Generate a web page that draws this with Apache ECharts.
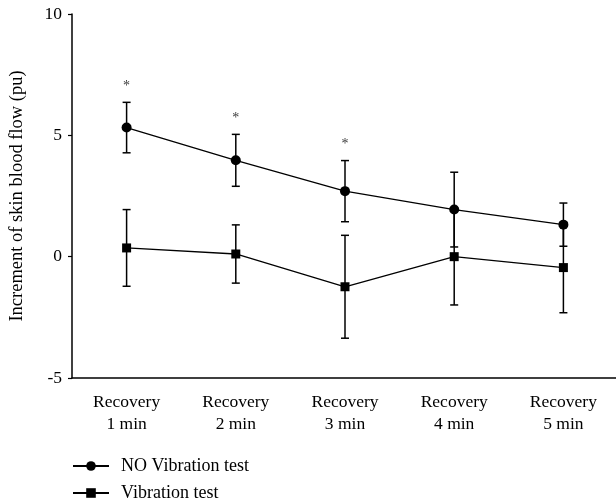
<!DOCTYPE html>
<html>

<head>
    <meta charset="UTF-8">
    <script src="https://cdn.jsdelivr.net/npm/echarts@6.0.0/dist/echarts.min.js"></script>
    <style>
        html, body { margin: 0; padding: 0; background: #fff; }
    </style>
</head>

<body>
    <div id="main" style="width: 616px; height: 502px;"></div>
    <script>
        // categories and values
        var categories = ['Recovery\n1 min', 'Recovery\n2 min', 'Recovery\n3 min', 'Recovery\n4 min', 'Recovery\n5 min'];
        var noVibMean = [5.32, 3.97, 2.70, 1.94, 1.32];
        var noVibErr = [1.04, 1.07, 1.26, 1.54, 0.89];
        var vibMean = [0.36, 0.11, -1.24, 0.00, -0.45];
        var vibErr = [1.58, 1.20, 2.12, 1.99, 1.86];
        var starFlags = [true, true, true, false, false];
        var yTicks = [-5, 0, 5, 10];

        var font = '"Liberation Serif", "DejaVu Serif", serif';
        var myChart = echarts.init(document.getElementById('main'));

        function errData(mean, err) {
            var out = [];
            for (var i = 0; i < mean.length; i++) {
                out.push([i, mean[i] - err[i], mean[i] + err[i]]);
            }
            return out;
        }

        function renderErr(params, api) {
            var lo = api.coord([api.value(0), api.value(1)]);
            var hi = api.coord([api.value(0), api.value(2)]);
            var cap = 4;
            var st = { stroke: '#000', lineWidth: 1.5 };
            return {
                type: 'group',
                children: [
                    { type: 'line', shape: { x1: lo[0], y1: lo[1], x2: hi[0], y2: hi[1] }, style: st },
                    { type: 'line', shape: { x1: lo[0] - cap, y1: lo[1], x2: lo[0] + cap, y2: lo[1] }, style: st },
                    { type: 'line', shape: { x1: hi[0] - cap, y1: hi[1], x2: hi[0] + cap, y2: hi[1] }, style: st }
                ]
            };
        }

        var starData = [];
        for (var i = 0; i < starFlags.length; i++) {
            if (starFlags[i]) starData.push([i, noVibMean[i] + noVibErr[i]]);
        }

        var legendBase = {
            left: 72,
            padding: 0,
            itemWidth: 36,
            itemHeight: 12,
            textStyle: { fontFamily: font, fontSize: 18, color: '#000', padding: [0, 0, 0, 7] }
        };

        var option = {
            animation: false,
            textStyle: { fontFamily: font },
            grid: { left: 72, right: -2, top: 14, bottom: 124, outerBoundsMode: 'none' },
            legend: [
                Object.assign({}, legendBase, { top: 457, data: ['NO Vibration test'] }),
                Object.assign({}, legendBase, { top: 484, data: ['Vibration test'] })
            ],
            xAxis: {
                type: 'category',
                data: categories,
                boundaryGap: true,
                axisLine: { onZero: false, lineStyle: { color: '#000', width: 1.5 } },
                axisTick: { alignWithLabel: true, length: 4, lineStyle: { color: '#000', width: 1.2 } },
                axisLabel: { color: '#000', fontFamily: font, fontSize: 17.5, lineHeight: 22, margin: 13 }
            },
            yAxis: {
                type: 'value',
                min: -5,
                max: 10,
                interval: 5,
                name: 'Increment of skin blood flow (pu)',
                nameLocation: 'middle',
                nameGap: 45,
                nameTextStyle: { color: '#000', fontFamily: font, fontSize: 18.5 },
                axisLine: { show: true, lineStyle: { color: '#000', width: 1.5 } },
                axisTick: { show: true, length: 4, lineStyle: { color: '#000', width: 1.2 } },
                splitLine: { show: false },
                axisLabel: {
                    color: '#000', fontFamily: font, fontSize: 17.5, margin: 10,
                    formatter: function (v) { return yTicks.indexOf(v) >= 0 ? String(v) : ''; }
                }
            },
            series: [
                {
                    type: 'custom',
                    name: 'errNo',
                    renderItem: renderErr,
                    data: errData(noVibMean, noVibErr),
                    z: 1
                },
                {
                    type: 'custom',
                    name: 'errVib',
                    renderItem: renderErr,
                    data: errData(vibMean, vibErr),
                    z: 1
                },
                {
                    name: 'NO Vibration test',
                    type: 'line',
                    data: noVibMean,
                    symbol: 'circle',
                    symbolSize: 10,
                    itemStyle: { color: '#000' },
                    lineStyle: { color: '#000', width: 1.3 },
                    z: 3
                },
                {
                    name: 'Vibration test',
                    type: 'line',
                    data: vibMean,
                    symbol: 'rect',
                    symbolSize: 9,
                    itemStyle: { color: '#000' },
                    lineStyle: { color: '#000', width: 1.3 },
                    z: 3
                },
                {
                    type: 'scatter',
                    name: 'stars',
                    data: starData,
                    symbolSize: 0,
                    label: {
                        show: true,
                        formatter: '*',
                        position: 'top',
                        distance: 9,
                        color: '#000',
                        fontFamily: font,
                        fontSize: 14
                    },
                    z: 4
                }
            ]
        };

        myChart.setOption(option);
    </script>
</body>

</html>
